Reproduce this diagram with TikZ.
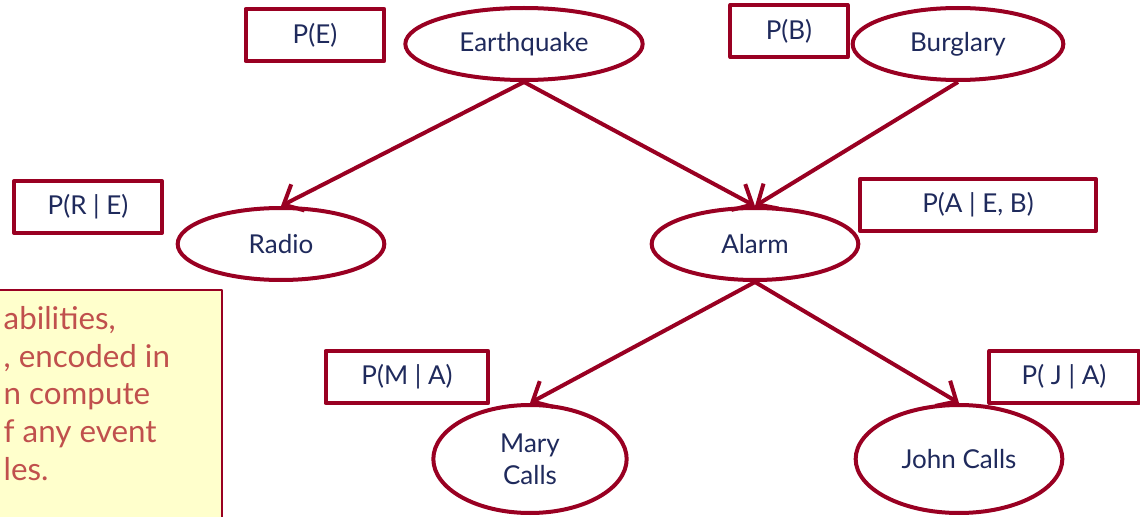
\documentclass[tikz,border=0pt]{standalone}
\usepackage{fontspec}
\setmainfont{Lato}
\usetikzlibrary{shapes.geometric,arrows.meta}
\definecolor{wine}{HTML}{990022}
\definecolor{navy}{HTML}{1F2A5C}
\definecolor{notered}{HTML}{C0504D}
\definecolor{notefill}{HTML}{FFFFCC}
\begin{document}
\begin{tikzpicture}[x=0.75pt, y=-0.75pt, line join=round,
    var/.style={ellipse, draw=wine, line width=3pt, fill=white, text=navy,
      font=\fontsize{19.5}{24}\selectfont, align=center, inner sep=0pt,
      minimum height=54pt},
    cpt/.style={rectangle, draw=wine, line width=3pt, fill=white, text=navy,
      font=\fontsize{19.5}{24}\selectfont, inner sep=0pt, minimum height=39pt},
    arr/.style={draw=wine, line width=3pt,
      -{Straight Barb[length=12pt, width=22pt, line width=3pt]}},
    note/.style={fill=notefill, draw=wine, line width=0.9pt}]
  \useasboundingbox (0,0) rectangle (1140,517);
  % note on the left
  \draw[note] (-10,290) rectangle (222,530);
  \node[anchor=north west, text=notered, align=left,
    font=\fontsize{23.5}{28.2}\selectfont] (notetxt) at (-1,302)
    {abilities,\\, encoded in\\n compute\\f any event\\les.};
  % variables
  \node[var, minimum width=178pt] (eq) at (524,44) {Earthquake};
  \node[var, minimum width=158pt] (bu) at (958,44) {Burglary};
  \node[var, minimum width=155pt] (ra) at (281,244) {Radio};
  \node[var, minimum width=155pt] (al) at (755,244) {Alarm};
  \node[var, minimum width=145pt, minimum height=81pt] (ma) at (530,459) {Mary\\Calls};
  \node[var, minimum width=155pt, minimum height=81pt] (jo) at (959,459) {John Calls};
  % tables
  \node[cpt, minimum width=104pt] (pe) at (315,35) {P(E)};
  \node[cpt, minimum width=88pt] (pb) at (789,31) {P(B)};
  \node[cpt, minimum width=111pt] (pr) at (88,207) {P(R | E)};
  \node[cpt, minimum width=177pt] (pa) at (978,205) {P(A | E, B)};
  \node[cpt, minimum width=122pt] (pm) at (407,377) {P(M | A)};
  \node[cpt, minimum width=112pt] (pj) at (1064,377) {P( J | A)};
  % edges
  \draw[arr] (eq.south) -- (ra.north);
  \draw[arr] (eq.south) -- (al.north);
  \draw[arr] (bu.south) -- (al.north);
  \draw[arr] (al.south) -- (ma.north);
  \draw[arr] (al.south) -- (jo.north);
\end{tikzpicture}
\end{document}
